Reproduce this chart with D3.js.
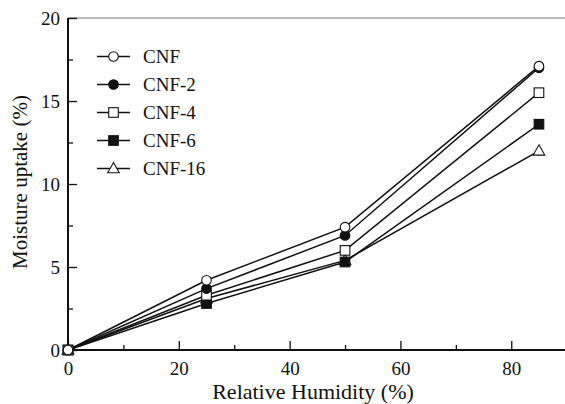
<!DOCTYPE html>
<html>
<head>
<meta charset="utf-8">
<script src="https://cdn.jsdelivr.net/npm/d3@7"></script>
</head>
<body style="margin:0;background:#fff">
<div id="chart-area"></div>
<script>
//data
var humidity = [0, 25, 50, 85];
var seriesNames = ["CNF", "CNF-2", "CNF-4", "CNF-6", "CNF-16"];
var cnf   = [0, 4.2, 7.4, 17.1];
var cnf2  = [0, 3.7, 6.9, 17.0];
var cnf4  = [0, 3.3, 6.0, 15.5];
var cnf6  = [0, 2.8, 5.3, 13.6];
var cnf16 = [0, 3.1, 5.4, 12.0];
var xTicks = [0, 20, 40, 60, 80];
var yTicks = [0, 5, 10, 15, 20];

var series = [
    {name: seriesNames[0], values: cnf,   shape: "circle", fill: "#fff"},
    {name: seriesNames[1], values: cnf2,  shape: "circle", fill: "#111"},
    {name: seriesNames[2], values: cnf4,  shape: "square", fill: "#fff"},
    {name: seriesNames[3], values: cnf6,  shape: "square", fill: "#111"},
    {name: seriesNames[4], values: cnf16, shape: "triangle", fill: "#fff"}
];

var FONT = "Times New Roman, Liberation Serif, Tinos, serif";

var margin = {top:18, right:0, bottom:54, left:68},
    width = 565 - margin.left - margin.right,
    height = 404 - margin.top - margin.bottom;

var svg = d3.select("#chart-area")
    .append("svg")
        .attr("width", 565)
        .attr("height", 404)
        .attr("font-family", FONT)
    .append("g")
        .attr("transform", "translate(" + margin.left + "," + margin.top + ")");

//scales (axis runs past the right edge of the picture)
var x = d3.scaleLinear().domain([0, 89.7]).range([0, width]);
var y = d3.scaleLinear().domain([0, 20]).range([height, 0]);

//top frame line
svg.append("line")
    .attr("x1", 0).attr("x2", width)
    .attr("y1", 0).attr("y2", 0)
    .attr("stroke", "#777").attr("stroke-width", 1.2);

//minor ticks
svg.append("g")
    .attr("transform", "translate(0," + height + ")")
    .call(d3.axisTop(x).tickValues([10, 30, 50, 70]).tickSize(5).tickFormat(""))
    .call(g => g.select(".domain").remove());
svg.append("g")
    .call(d3.axisRight(y).tickValues([2.5, 7.5, 12.5, 17.5]).tickSize(5).tickFormat(""))
    .call(g => g.select(".domain").remove());

//major ticks
var xAxis = svg.append("g")
    .attr("class", "x axis")
    .attr("transform", "translate(0," + height + ")")
    .call(d3.axisTop(x).tickValues(xTicks).tickSize(9).tickFormat(d3.format("d")));
xAxis.selectAll("text").attr("y", 12).attr("dy", "0.71em");

var yAxis = svg.append("g")
    .attr("class", "y axis")
    .call(d3.axisRight(y).tickValues(yTicks).tickSize(9).tickFormat(d3.format("d")));
yAxis.selectAll("text").attr("x", -8).attr("dy", "0.36em").attr("text-anchor", "end");

svg.selectAll(".axis .domain").attr("stroke", "#111").attr("stroke-width", 2);
svg.selectAll(".tick line").attr("stroke", "#111").attr("stroke-width", 1.3);
svg.selectAll(".tick text").attr("font-size", 19).attr("fill", "#111");

//x domain line is drawn to right edge
xAxis.select(".domain").attr("d", "M0,0H" + width);
yAxis.select(".domain").attr("d", "M0,0V" + height);

//axis titles
svg.append("text")
    .attr("x", 245).attr("y", height + 49)
    .attr("text-anchor", "middle")
    .attr("font-size", 22)
    .attr("fill", "#111")
    .text("Relative Humidity (%)");
svg.append("text")
    .attr("transform", "translate(-41," + (height / 2 - 2) + ") rotate(-90)")
    .attr("text-anchor", "middle")
    .attr("font-size", 21)
    .attr("fill", "#111")
    .text("Moisture uptake (%)");

//line generator
var line = d3.line()
    .x((d, i) => x(humidity[i]))
    .y(d => y(d));

//marker drawing
function marker(sel, shape, fill) {
    if (shape === "circle") {
        sel.append("circle").attr("r", 4.8);
    } else if (shape === "square") {
        sel.append("rect").attr("x", -4.8).attr("y", -4.8).attr("width", 9.6).attr("height", 9.6);
    } else {
        sel.append("path").attr("d", "M0,-6L5.8,4.3L-5.8,4.3Z");
    }
    sel.selectAll("*")
        .attr("fill", fill)
        .attr("stroke", "#111")
        .attr("stroke-width", 1.1);
}

//draw series from last to first so CNF sits on top
series.slice().reverse().forEach(s => {
    svg.append("path")
        .datum(s.values)
        .attr("fill", "none")
        .attr("stroke", "#111")
        .attr("stroke-width", 1.5)
        .attr("d", line);
});
series.slice().reverse().forEach(s => {
    svg.selectAll(null)
        .data(s.values)
        .enter().append("g")
            .attr("transform", (d, i) => "translate(" + x(humidity[i]) + "," + y(d) + ")")
            .each(function() { marker(d3.select(this), s.shape, s.fill); });
});

//legend
var legend = svg.selectAll(".legend")
    .data(series)
    .enter().append("g")
        .attr("class", "legend")
        .attr("transform", (d, i) => "translate(29," + (38.5 + i * 28) + ")");
legend.append("line")
    .attr("x1", 0).attr("x2", 33)
    .attr("stroke", "#111").attr("stroke-width", 1.5);
legend.append("g")
    .attr("transform", "translate(16.5,0)")
    .each(function(d) { marker(d3.select(this), d.shape, d.fill); });
legend.append("text")
    .attr("x", 46).attr("dy", "0.35em")
    .attr("font-size", 19)
    .attr("fill", "#111")
    .text(d => d.name);

//axis groups carry d3's sans-serif default, drop it so texts inherit the svg font
svg.selectAll("g").attr("font-family", null);
svg.selectAll("text").attr("font-family", FONT);
</script>
</body>
</html>
